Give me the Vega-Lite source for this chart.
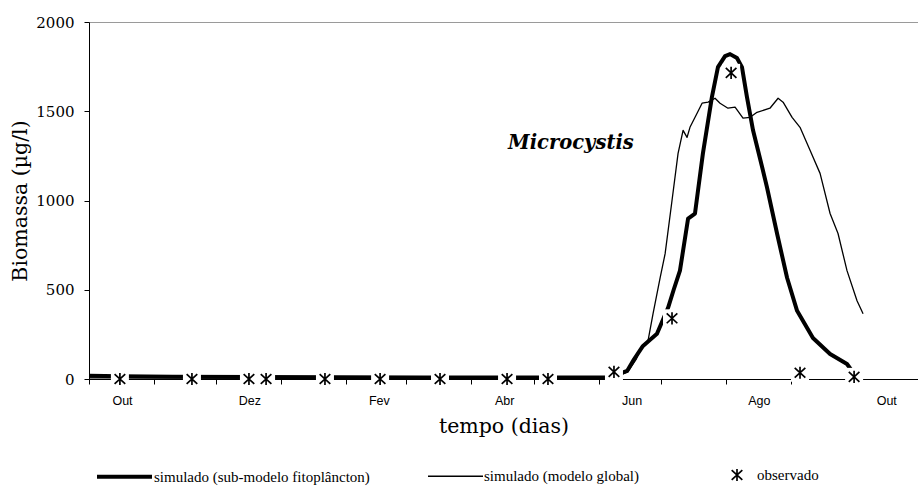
{
  "$schema": "https://vega.github.io/schema/vega-lite/v6.json",
  "width": 829,
  "height": 357,
  "autosize": {"type": "none"},
  "padding": {"left": 89, "top": 22, "right": 0, "bottom": 107},
  "background": "white",
  "config": {
    "view": {"stroke": "#9a9a9a", "strokeWidth": 1},
    "axis": {"domainColor": "black", "tickColor": "black", "grid": false, "labelColor": "black", "titleColor": "black", "domainWidth": 1, "tickWidth": 1}
  },
  "datasets": {
    "series": [
      {"serie": "simulado (sub-modelo fitoplâncton)", "dia": 0, "valor": 18},
      {"serie": "simulado (sub-modelo fitoplâncton)", "dia": 15, "valor": 15},
      {"serie": "simulado (sub-modelo fitoplâncton)", "dia": 40, "valor": 12},
      {"serie": "simulado (sub-modelo fitoplâncton)", "dia": 80, "valor": 11},
      {"serie": "simulado (sub-modelo fitoplâncton)", "dia": 120, "valor": 10},
      {"serie": "simulado (sub-modelo fitoplâncton)", "dia": 160, "valor": 9},
      {"serie": "simulado (sub-modelo fitoplâncton)", "dia": 200, "valor": 9},
      {"serie": "simulado (sub-modelo fitoplâncton)", "dia": 240, "valor": 8},
      {"serie": "simulado (sub-modelo fitoplâncton)", "dia": 248, "valor": 10},
      {"serie": "simulado (sub-modelo fitoplâncton)", "dia": 252, "valor": 20},
      {"serie": "simulado (sub-modelo fitoplâncton)", "dia": 257.7, "valor": 45},
      {"serie": "simulado (sub-modelo fitoplâncton)", "dia": 261, "valor": 110},
      {"serie": "simulado (sub-modelo fitoplâncton)", "dia": 265.3, "valor": 185},
      {"serie": "simulado (sub-modelo fitoplâncton)", "dia": 272, "valor": 253},
      {"serie": "simulado (sub-modelo fitoplâncton)", "dia": 277.3, "valor": 399},
      {"serie": "simulado (sub-modelo fitoplâncton)", "dia": 280, "valor": 500},
      {"serie": "simulado (sub-modelo fitoplâncton)", "dia": 283, "valor": 607},
      {"serie": "simulado (sub-modelo fitoplâncton)", "dia": 286.9, "valor": 899},
      {"serie": "simulado (sub-modelo fitoplâncton)", "dia": 290.2, "valor": 927},
      {"serie": "simulado (sub-modelo fitoplâncton)", "dia": 294, "valor": 1264},
      {"serie": "simulado (sub-modelo fitoplâncton)", "dia": 298.3, "valor": 1579},
      {"serie": "simulado (sub-modelo fitoplâncton)", "dia": 301.2, "valor": 1747},
      {"serie": "simulado (sub-modelo fitoplâncton)", "dia": 304.6, "valor": 1809},
      {"serie": "simulado (sub-modelo fitoplâncton)", "dia": 307, "valor": 1820},
      {"serie": "simulado (sub-modelo fitoplâncton)", "dia": 310.3, "valor": 1798},
      {"serie": "simulado (sub-modelo fitoplâncton)", "dia": 312.7, "valor": 1747},
      {"serie": "simulado (sub-modelo fitoplâncton)", "dia": 315.1, "valor": 1579},
      {"serie": "simulado (sub-modelo fitoplâncton)", "dia": 318, "valor": 1393},
      {"serie": "simulado (sub-modelo fitoplâncton)", "dia": 322.4, "valor": 1185},
      {"serie": "simulado (sub-modelo fitoplâncton)", "dia": 324.7, "valor": 1073},
      {"serie": "simulado (sub-modelo fitoplâncton)", "dia": 329.5, "valor": 815},
      {"serie": "simulado (sub-modelo fitoplâncton)", "dia": 334.3, "valor": 567},
      {"serie": "simulado (sub-modelo fitoplâncton)", "dia": 339.1, "valor": 382},
      {"serie": "simulado (sub-modelo fitoplâncton)", "dia": 346.7, "valor": 230},
      {"serie": "simulado (sub-modelo fitoplâncton)", "dia": 354.9, "valor": 140},
      {"serie": "simulado (sub-modelo fitoplâncton)", "dia": 363, "valor": 84},
      {"serie": "simulado (sub-modelo fitoplâncton)", "dia": 365.4, "valor": 45},
      {"serie": "simulado (sub-modelo fitoplâncton)", "dia": 367, "valor": 30},
      {"serie": "simulado (modelo global)", "dia": 0, "valor": 6},
      {"serie": "simulado (modelo global)", "dia": 100, "valor": 5},
      {"serie": "simulado (modelo global)", "dia": 200, "valor": 5},
      {"serie": "simulado (modelo global)", "dia": 248, "valor": 6},
      {"serie": "simulado (modelo global)", "dia": 254, "valor": 20},
      {"serie": "simulado (modelo global)", "dia": 258, "valor": 40},
      {"serie": "simulado (modelo global)", "dia": 262, "valor": 110},
      {"serie": "simulado (modelo global)", "dia": 264.8, "valor": 185},
      {"serie": "simulado (modelo global)", "dia": 267.7, "valor": 213},
      {"serie": "simulado (modelo global)", "dia": 270.1, "valor": 365},
      {"serie": "simulado (modelo global)", "dia": 273.5, "valor": 567},
      {"serie": "simulado (modelo global)", "dia": 275.9, "valor": 702},
      {"serie": "simulado (modelo global)", "dia": 279.2, "valor": 1000},
      {"serie": "simulado (modelo global)", "dia": 282.1, "valor": 1264},
      {"serie": "simulado (modelo global)", "dia": 284.5, "valor": 1393},
      {"serie": "simulado (modelo global)", "dia": 286.4, "valor": 1354},
      {"serie": "simulado (modelo global)", "dia": 287.8, "valor": 1410},
      {"serie": "simulado (modelo global)", "dia": 291.2, "valor": 1489},
      {"serie": "simulado (modelo global)", "dia": 293.6, "valor": 1545},
      {"serie": "simulado (modelo global)", "dia": 296.5, "valor": 1551},
      {"serie": "simulado (modelo global)", "dia": 299.8, "valor": 1573},
      {"serie": "simulado (modelo global)", "dia": 302.2, "valor": 1545},
      {"serie": "simulado (modelo global)", "dia": 306, "valor": 1517},
      {"serie": "simulado (modelo global)", "dia": 309.4, "valor": 1523},
      {"serie": "simulado (modelo global)", "dia": 313.2, "valor": 1461},
      {"serie": "simulado (modelo global)", "dia": 316.6, "valor": 1466},
      {"serie": "simulado (modelo global)", "dia": 319.9, "valor": 1494},
      {"serie": "simulado (modelo global)", "dia": 326.1, "valor": 1517},
      {"serie": "simulado (modelo global)", "dia": 330, "valor": 1573},
      {"serie": "simulado (modelo global)", "dia": 332.4, "valor": 1551},
      {"serie": "simulado (modelo global)", "dia": 336.7, "valor": 1466},
      {"serie": "simulado (modelo global)", "dia": 340.5, "valor": 1410},
      {"serie": "simulado (modelo global)", "dia": 345.3, "valor": 1281},
      {"serie": "simulado (modelo global)", "dia": 350.1, "valor": 1152},
      {"serie": "simulado (modelo global)", "dia": 354.9, "valor": 927},
      {"serie": "simulado (modelo global)", "dia": 358.7, "valor": 815},
      {"serie": "simulado (modelo global)", "dia": 363, "valor": 607},
      {"serie": "simulado (modelo global)", "dia": 367.8, "valor": 438},
      {"serie": "simulado (modelo global)", "dia": 370.7, "valor": 365},
      {"serie": "observado", "dia": 14.8, "valor": 0},
      {"serie": "observado", "dia": 49.3, "valor": 0},
      {"serie": "observado", "dia": 76.6, "valor": 0},
      {"serie": "observado", "dia": 84.8, "valor": 0},
      {"serie": "observado", "dia": 113, "valor": 0},
      {"serie": "observado", "dia": 139.4, "valor": 0},
      {"serie": "observado", "dia": 168.1, "valor": 0},
      {"serie": "observado", "dia": 200.2, "valor": 0},
      {"serie": "observado", "dia": 219.8, "valor": 0},
      {"serie": "observado", "dia": 251.4, "valor": 40},
      {"serie": "observado", "dia": 279.2, "valor": 340},
      {"serie": "observado", "dia": 307.5, "valor": 1715},
      {"serie": "observado", "dia": 340.5, "valor": 35},
      {"serie": "observado", "dia": 366.4, "valor": 12}
    ],
    "rotulo": [
      {"texto": "Microcystis", "dia": 230.8, "valor": 1322}
    ]
  },
  "layer": [
    {
      "data": {"name": "series"},
      "transform": [{"filter": "datum.serie != 'observado'"}],
      "mark": {"type": "line", "color": "black", "strokeJoin": "round", "strokeCap": "butt"},
      "encoding": {
        "x": {
          "field": "dia", "type": "quantitative",
          "scale": {"domain": [0, 397], "nice": false, "zero": false},
          "axis": {
            "title": "tempo (dias)",
            "values": [0, 31, 61, 92, 123, 152, 183, 213, 244, 274, 305, 336, 366, 397],
            "labelExpr": "datum.value==0?'Out':datum.value==61?'Dez':datum.value==123?'Fev':datum.value==183?'Abr':datum.value==244?'Jun':datum.value==305?'Ago':datum.value==366?'Out':''",
            "labelOffset": 33,
            "labelFont": "Liberation Sans",
            "labelFontSize": 12.5,
            "labelPadding": 10,
            "tickSize": 5,
            "labelOverlap": false,
            "labelFlush": false,
            "labelBound": false,
            "titleFont": "DejaVu Serif",
            "titleFontSize": 20.5,
            "titleFontWeight": "normal",
            "titlePadding": 10
          }
        },
        "y": {
          "field": "valor", "type": "quantitative",
          "scale": {"domain": [0, 2000], "nice": false},
          "axis": {
            "title": "Biomassa (µg/l)",
            "values": [0, 500, 1000, 1500, 2000],
            "format": "d",
            "labelFont": "DejaVu Serif",
            "labelFontSize": 15,
            "labelPadding": 10,
            "tickSize": 5,
            "titleFont": "DejaVu Serif",
            "titleFontSize": 20.5,
            "titleFontWeight": "normal",
            "titlePadding": 5
          }
        },
        "strokeWidth": {
          "field": "serie", "type": "ordinal",
          "scale": {"domain": ["simulado (sub-modelo fitoplâncton)", "simulado (modelo global)"], "range": [4, 1.3]},
          "legend": {
            "orient": "none", "legendX": 6, "legendY": 425, "direction": "horizontal", "title": null,
            "symbolType": "stroke", "symbolSize": 3025, "symbolStrokeColor": "black",
            "labelFont": "Liberation Serif", "labelFontSize": 15, "labelColor": "black", "labelLimit": 0,
            "labelOffset": 0, "columnPadding": 55, "padding": 0
          }
        }
      }
    },
    {
      "data": {"name": "series"},
      "transform": [{"filter": "datum.serie == 'observado'"}],
      "mark": {"type": "point", "shape": "square", "filled": true, "color": "white", "size": 324, "opacity": 1},
      "encoding": {
        "x": {"field": "dia", "type": "quantitative"},
        "y": {"field": "valor", "type": "quantitative"}
      }
    },
    {
      "data": {"name": "series"},
      "transform": [{"filter": "datum.serie == 'observado'"}],
      "mark": {"type": "point", "filled": false, "color": "black", "strokeWidth": 1.7, "size": 1444, "opacity": 1},
      "encoding": {
        "x": {"field": "dia", "type": "quantitative"},
        "y": {"field": "valor", "type": "quantitative"},
        "shape": {
          "field": "serie", "type": "nominal",
          "scale": {"domain": ["observado"], "range": ["M-0.28,-0.26L0.28,0.26M-0.28,0.26L0.28,-0.26M0,-0.32L0,0.32"]},
          "legend": {
            "orient": "none", "legendX": 628, "legendY": 433, "title": null,
            "symbolSize": 1444, "symbolStrokeColor": "black", "symbolStrokeWidth": 1.7,
            "labelFont": "Liberation Serif", "labelFontSize": 15, "labelColor": "black", "labelLimit": 0,
            "labelOffset": 0, "padding": 0
          }
        }
      }
    },
    {
      "data": {"name": "rotulo"},
      "mark": {"type": "text", "font": "DejaVu Serif", "fontSize": 19.5, "fontWeight": "bold", "fontStyle": "italic", "color": "black"},
      "encoding": {
        "x": {"field": "dia", "type": "quantitative"},
        "y": {"field": "valor", "type": "quantitative"},
        "text": {"field": "texto"}
      }
    }
  ]
}
